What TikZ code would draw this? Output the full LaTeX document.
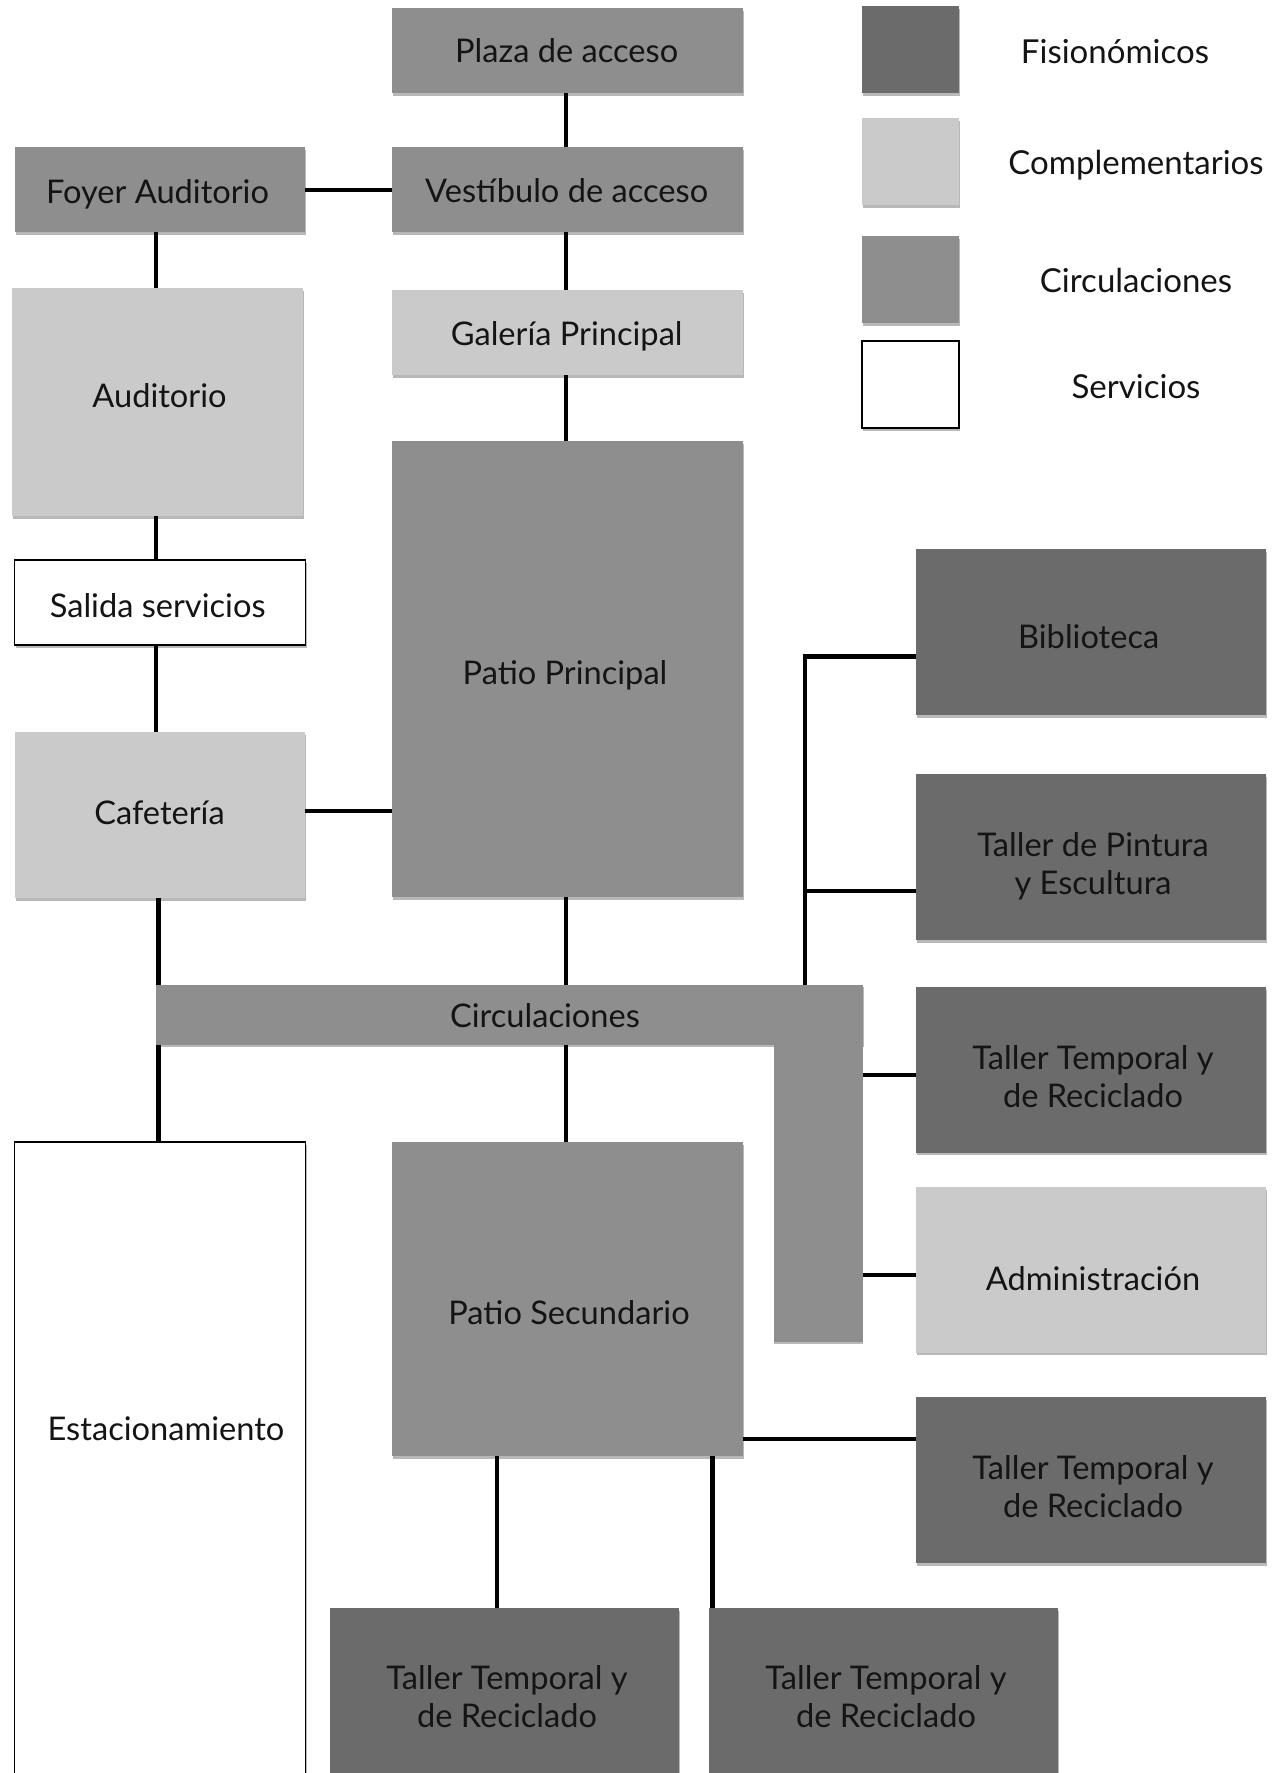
\documentclass[tikz,border=0pt]{standalone}
\usepackage{fontspec}
\setmainfont{Lato}
\usetikzlibrary{shadows}
\definecolor{fisio}{RGB}{107,107,107}
\definecolor{compl}{RGB}{202,202,202}
\definecolor{circu}{RGB}{142,142,142}
\definecolor{txt}{RGB}{20,20,20}
\tikzset{
  shd/.style={drop shadow={shadow xshift=0.5pt, shadow yshift=-1.4pt, opacity=0.28, fill=black}},
  area/.style={rectangle, inner sep=0pt, outer sep=0pt, shd},
  fisbox/.style={area, fill=fisio},
  combox/.style={area, fill=compl},
  cirbox/.style={area, fill=circu},
  serbox/.style={area, fill=white, draw=black, line width=0.9pt},
  lbl/.style={text=txt, inner sep=0pt, font=\fontsize{16.3}{19}\selectfont, align=center},
  legtxt/.style={text=txt, inner sep=0pt, font=\fontsize{16.5}{20}\selectfont},
  link/.style={draw=black, line width=2.25pt}
}
\begin{document}
\begin{tikzpicture}[x=0.5pt,y=-0.5pt]
\useasboundingbox (0,0) rectangle (1276,1773);
% ---------- boxes ----------
\node[cirbox, minimum width=175.5pt, minimum height=42.5pt] (plaza) at (567.5,50.5) {};
\node[cirbox, minimum width=175.5pt, minimum height=42.5pt] (vest) at (567.5,189.5) {};
\node[cirbox, minimum width=145pt, minimum height=42.5pt] (foyer) at (160,189.5) {};
\node[combox, minimum width=175.5pt, minimum height=42.5pt] (gal) at (567.5,332.5) {};
\node[combox, minimum width=145.5pt, minimum height=114pt] (audit) at (157.5,402) {};
\node[serbox, minimum width=145.5pt, minimum height=42.5pt] (salida) at (160,602.5) {};
\node[combox, minimum width=145pt, minimum height=83pt] (cafe) at (160,815) {};
\node[cirbox, minimum width=175.5pt, minimum height=228pt] (patioP) at (567.5,669) {};
\node[cirbox, minimum width=353.55pt, minimum height=30pt] (circH) at (509.15,1014.5) {};
\node[rectangle, inner sep=0pt, outer sep=0pt, fill=circu,
      drop shadow={shadow xshift=0pt, shadow yshift=-1.4pt, opacity=0.28, fill=black},
      minimum width=44.35pt, minimum height=178.55pt] (circV) at (818.35,1163.05) {};
\node[fisbox, minimum width=175pt, minimum height=83pt] (biblio) at (1091,632) {};
\node[fisbox, minimum width=175pt, minimum height=83pt] (pintura) at (1091,857) {};
\node[fisbox, minimum width=175pt, minimum height=82.75pt] (tt1) at (1091,1069.75) {};
\node[combox, minimum width=175pt, minimum height=82.75pt] (admin) at (1091,1269.75) {};
\node[fisbox, minimum width=175pt, minimum height=83pt] (tt2) at (1091,1480) {};
\node[cirbox, minimum width=175.5pt, minimum height=157pt] (patioS) at (567.5,1299) {};
\node[serbox, line width=0.6pt, minimum width=145.5pt, minimum height=318pt] (estac) at (160,1460) {};
\node[fisbox, minimum width=174.5pt, minimum height=86pt] (tt3) at (504.1,1694.4) {};
\node[fisbox, minimum width=174.75pt, minimum height=86pt] (tt4) at (883.25,1694.4) {};
% legend boxes
\node[fisbox, minimum width=48.5pt, minimum height=43.35pt] (leg1) at (910.5,49.35) {};
\node[combox, minimum width=48.5pt, minimum height=43.35pt] (leg2) at (910.5,161.35) {};
\node[cirbox, minimum width=48.5pt, minimum height=43.35pt] (leg3) at (910.5,279.35) {};
\node[serbox, minimum width=48.5pt, minimum height=43.35pt] (leg4) at (910.5,384.65) {};
% ---------- texts ----------
\node[lbl] (plaza-t) at (566.7,51) {Plaza de acceso};
\node[lbl] (vest-t) at (566.7,190.5) {Vestíbulo de acceso};
\node[lbl] (foyer-t) at (157.5,194) {Foyer Auditorio};
\node[lbl] (gal-t) at (566.7,336.5) {Galería Principal};
\node[lbl] (audit-t) at (159.5,395.5) {Auditorio};
\node[lbl] (salida-t) at (157.7,606) {Salida servicios};
\node[lbl] (cafe-t) at (159.5,813) {Cafetería};
\node[lbl] (patioP-t) at (565,675) {Patio Principal};
\node[lbl] (circ-t) at (545,1016) {Circulaciones};
\node[lbl] (biblio-t) at (1088.7,636.5) {Biblioteca};
\node[lbl] (pintura-t) at (1093,866) {Taller de Pintura\\y Escultura};
\node[lbl] (tt1-t) at (1093,1076.5) {Taller Temporal y\\de Reciclado};
\node[lbl] (admin-t) at (1093,1279) {Administración};
\node[lbl] (tt2-t) at (1093,1487) {Taller Temporal y\\de Reciclado};
\node[lbl] (patioS-t) at (569,1313) {Patio Secundario};
\node[lbl] (estac-t) at (166,1429) {Estacionamiento};
\node[lbl] (tt3-t) at (507,1697) {Taller Temporal y\\de Reciclado};
\node[lbl] (tt4-t) at (886,1697) {Taller Temporal y\\de Reciclado};
\node[legtxt] (leg1-t) at (1115,51.7) {Fisionómicos};
\node[legtxt] (leg2-t) at (1136,165) {Complementarios};
\node[legtxt] (leg3-t) at (1136,280.7) {Circulaciones};
\node[legtxt] (leg4-t) at (1136,386.7) {Servicios};
% ---------- connector coordinates ----------
\coordinate (bj) at (805,656.5);
\coordinate (pj) at (807,891);
\coordinate (t1j) at (862.7,1075);
\coordinate (adj) at (862.7,1275);
\coordinate (psj) at (742.6,1439);
\coordinate (t3j) at (497,1456);
\coordinate (t4j) at (712.6,1456);
% ---------- connectors ----------
\draw[link] (plaza.south -| 566,0) -- (vest.north -| 566,0);
\draw[link] (foyer.east |- 0,190) -- (vest.west |- 0,190);
\draw[link] (foyer.south -| 156,0) -- (audit.north -| 156,0);
\draw[link] (vest.south -| 566,0) -- (gal.north -| 566,0);
\draw[link] (gal.south -| 566,0) -- (patioP.north -| 566,0);
\draw[link] (audit.south -| 156,0) -- (salida.north -| 156,0);
\draw[link] (salida.south -| 156,0) -- (cafe.north -| 156,0);
\draw[link] (cafe.east |- 0,811) -- (patioP.west |- 0,811);
\draw[link] (cafe.south -| 158.5,0) -- (circH.north -| 158.5,0);
\draw[link] (patioP.south -| 566,0) -- (circH.north -| 566,0);
\draw[link] (circH.south -| 158.5,0) -- (estac.north -| 158.5,0);
\draw[link] (circH.south -| 566,0) -- (patioS.north -| 566,0);
\draw[link] (bj |- circH.north) -- (bj) -- (bj -| biblio.west);
\draw[link] (pj) -- (pj -| pintura.west);
\draw[link] (t1j) -- (t1j -| tt1.west);
\draw[link] (adj) -- (adj -| admin.west);
\draw[link] (psj) -- (psj -| tt2.west);
\draw[link] (t3j) -- (t3j |- tt3.north);
\draw[link] (t4j) -- (t4j |- tt4.north);
\end{tikzpicture}
\end{document}
